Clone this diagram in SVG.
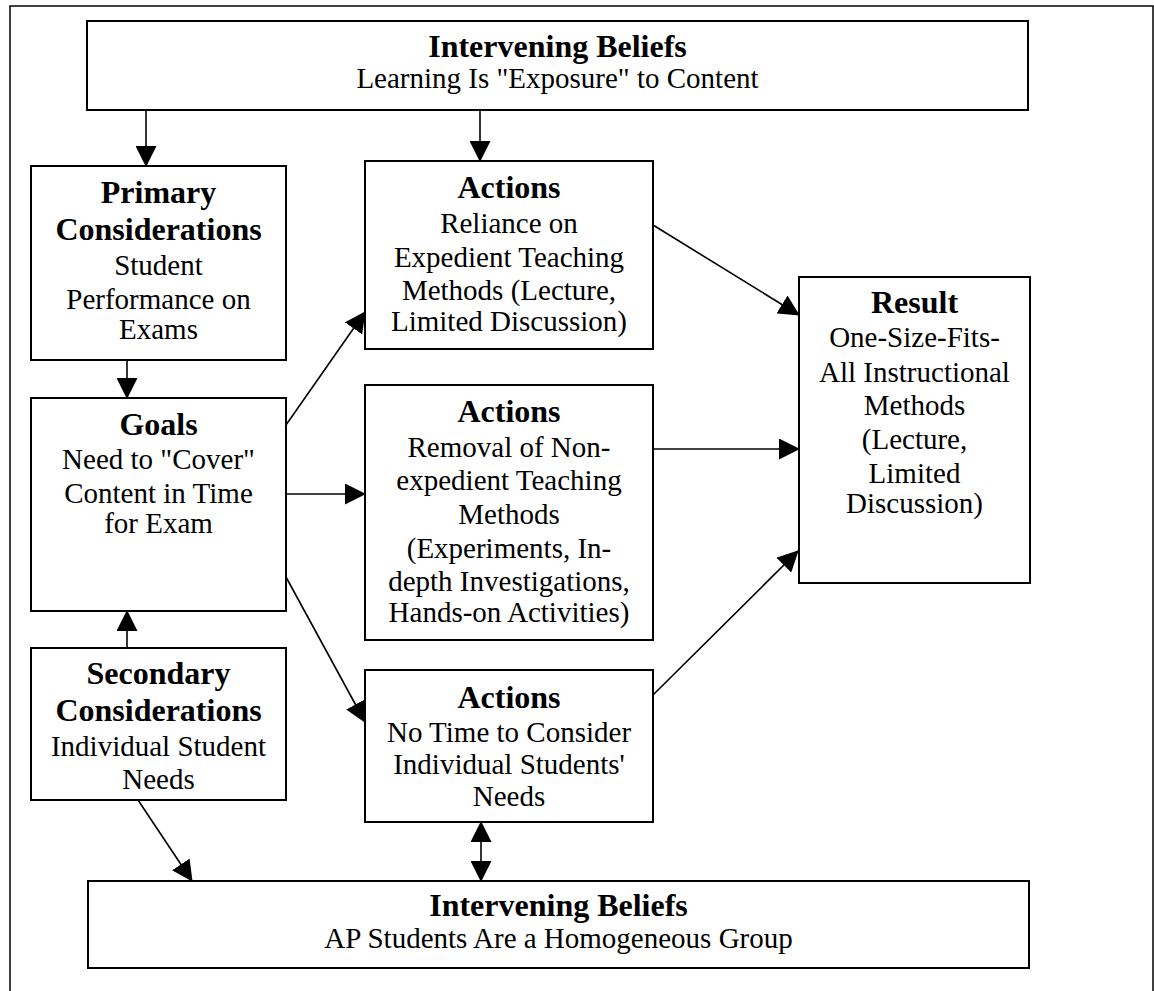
<svg xmlns="http://www.w3.org/2000/svg" width="1154" height="991" viewBox="0 0 1154 991">
<style>
.box{fill:#fff;stroke:#000;stroke-width:2}
.t{font-family:"Liberation Serif","Times New Roman",serif;font-size:29px;text-anchor:middle;fill:#000}
.b{font-weight:bold;font-size:32px}
.c{stroke:#000;stroke-width:1.6;fill:none;marker-end:url(#ah)}
</style>
<defs>
<marker id="ah" markerUnits="userSpaceOnUse" markerWidth="21" markerHeight="21" refX="20" refY="10.5" orient="auto-start-reverse" viewBox="0 0 21 21">
<path d="M0,0 L21,10.5 L0,21 z" fill="#000"/>
</marker>
</defs>
<rect x="10" y="6" width="1143" height="995" fill="#fff" stroke="#000" stroke-width="1.5"/>
<g id="connectors">
<line class="c" x1="146" y1="110" x2="146" y2="166"/>
<line class="c" x1="480" y1="110" x2="480" y2="161"/>
<line class="c" x1="127" y1="360" x2="127" y2="398"/>
<line class="c" x1="127" y1="648" x2="127" y2="611"/>
<line class="c" x1="286" y1="425" x2="365" y2="312"/>
<line class="c" x1="287" y1="494" x2="365" y2="494"/>
<line class="c" x1="286" y1="577" x2="365" y2="722"/>
<line class="c" x1="653" y1="225" x2="799" y2="315"/>
<line class="c" x1="653" y1="449" x2="799" y2="449"/>
<line class="c" x1="653" y1="695" x2="798" y2="551"/>
<line class="c" x1="138" y1="800" x2="192" y2="881"/>
<line class="c" x1="481" y1="822" x2="481" y2="881" style="marker-start:url(#ah)"/>
</g>
<g id="top-beliefs">
<rect class="box" x="87" y="21" width="941" height="89"/>
<text class="t b" x="557.5" y="57">Intervening Beliefs</text>
<text class="t" x="557.5" y="88">Learning Is "Exposure" to Content</text>
</g>
<g id="primary">
<rect class="box" x="31" y="166" width="255" height="194"/>
<text class="t b" x="158.5" y="203">Primary</text>
<text class="t b" x="158.5" y="240">Considerations</text>
<text class="t" x="158.5" y="275">Student</text>
<text class="t" x="158.5" y="309">Performance on</text>
<text class="t" x="158.5" y="339">Exams</text>
</g>
<g id="goals">
<rect class="box" x="31" y="398" width="255" height="213"/>
<text class="t b" x="158.5" y="435">Goals</text>
<text class="t" x="158.5" y="469">Need to "Cover"</text>
<text class="t" x="158.5" y="503">Content in Time</text>
<text class="t" x="158.5" y="533">for Exam</text>
</g>
<g id="secondary">
<rect class="box" x="31" y="648" width="255" height="152"/>
<text class="t b" x="158.5" y="684">Secondary</text>
<text class="t b" x="158.5" y="721">Considerations</text>
<text class="t" x="158.5" y="756">Individual Student</text>
<text class="t" x="158.5" y="789">Needs</text>
</g>
<g id="actions1">
<rect class="box" x="365" y="161" width="288" height="188"/>
<text class="t b" x="509" y="198">Actions</text>
<text class="t" x="509" y="233">Reliance on</text>
<text class="t" x="509" y="267">Expedient Teaching</text>
<text class="t" x="509" y="300">Methods (Lecture,</text>
<text class="t" x="509" y="331">Limited Discussion)</text>
</g>
<g id="actions2">
<rect class="box" x="365" y="385" width="288" height="255"/>
<text class="t b" x="509" y="422">Actions</text>
<text class="t" x="509" y="457">Removal of Non-</text>
<text class="t" x="509" y="490">expedient Teaching</text>
<text class="t" x="509" y="524">Methods</text>
<text class="t" x="509" y="558">(Experiments, In-</text>
<text class="t" x="509" y="591">depth Investigations,</text>
<text class="t" x="509" y="622">Hands-on Activities)</text>
</g>
<g id="actions3">
<rect class="box" x="365" y="670" width="288" height="152"/>
<text class="t b" x="509" y="708">Actions</text>
<text class="t" x="509" y="742">No Time to Consider</text>
<text class="t" x="509" y="774">Individual Students'</text>
<text class="t" x="509" y="806">Needs</text>
</g>
<g id="result">
<rect class="box" x="799" y="277" width="231" height="306"/>
<text class="t b" x="914.5" y="313">Result</text>
<text class="t" x="914.5" y="347">One-Size-Fits-</text>
<text class="t" x="914.5" y="382">All Instructional</text>
<text class="t" x="914.5" y="415">Methods</text>
<text class="t" x="914.5" y="449">(Lecture,</text>
<text class="t" x="914.5" y="483">Limited</text>
<text class="t" x="914.5" y="513">Discussion)</text>
</g>
<g id="bottom-beliefs">
<rect class="box" x="88" y="881" width="941" height="87"/>
<text class="t b" x="558.5" y="916">Intervening Beliefs</text>
<text class="t" x="558.5" y="948">AP Students Are a Homogeneous Group</text>
</g>
</svg>
